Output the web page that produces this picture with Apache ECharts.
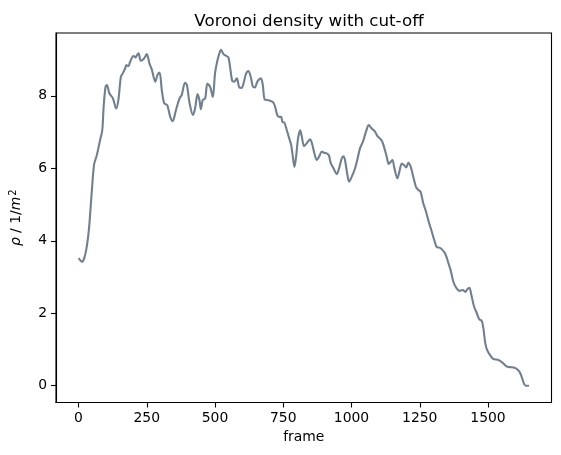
<!DOCTYPE html>
<html>
<head>
<meta charset="utf-8">
<script src="https://cdn.jsdelivr.net/npm/echarts@6/dist/echarts.min.js"></script>
<style>html,body{margin:0;padding:0;background:#fff}#c{width:561px;height:455px}</style>
</head>
<body>
<div id="c"></div>
<script>
const frames = [0,8,14,22,28,35,40,49,57,67,79,87,92,99,104,113,126,138,146,155,162,171,175,183,189,201,209,214,220,228,240,250,260,269,281,289,297,305,314,325,336,345,357,370,378,390,397,406,419,427,436,443,448,455,464,472,482,492,500,509,516,522,531,541,549,555,563,570,580,589,598,606,614,622,631,638,646,655,668,675,682,696,712,720,728,735,742,747,754,763,772,779,785,791,797,804,812,818,826,836,848,855,864,873,881,891,899,909,917,924,934,946,956,964,970,976,985,991,1001,1013,1021,1031,1043,1053,1063,1074,1086,1095,1111,1119,1129,1136,1144,1150,1157,1168,1175,1184,1192,1200,1208,1217,1226,1236,1245,1253,1263,1273,1283,1294,1303,1312,1322,1330,1343,1355,1363,1373,1383,1395,1407,1417,1424,1432,1439,1449,1459,1468,1477,1483,1490,1497,1507,1519,1538,1554,1571,1587,1602,1615,1623,1632,1639,1650];
const density = [3.52,3.45,3.42,3.55,3.74,4.1,4.48,5.40,6.10,6.36,6.78,7.05,7.70,8.25,8.30,8.07,7.93,7.65,7.88,8.52,8.62,8.76,8.85,8.82,8.94,9.10,9.06,9.12,9.17,8.97,9.03,9.15,8.89,8.71,8.39,8.57,8.64,8.16,7.79,7.74,7.42,7.30,7.61,7.93,8.02,8.36,8.30,7.83,7.47,7.65,8.05,7.88,7.63,7.88,7.93,8.34,8.25,7.97,8.62,8.98,9.17,9.27,9.15,9.10,9.06,8.80,8.41,8.39,8.48,8.23,8.22,8.39,8.62,8.68,8.52,8.27,8.23,8.39,8.48,8.30,7.90,7.88,7.83,7.70,7.47,7.42,7.42,7.28,7.26,7.05,6.82,6.64,6.32,6.04,6.32,6.82,7.05,6.87,6.61,6.69,6.80,6.69,6.41,6.23,6.32,6.46,6.43,6.41,6.36,6.14,6.00,5.84,6.04,6.27,6.33,6.23,5.81,5.63,5.77,6.00,6.23,6.55,6.76,7.01,7.19,7.10,7.01,6.89,6.76,6.59,6.32,6.12,6.18,6.23,6.00,5.72,5.90,6.13,6.09,6.02,6.15,6.04,5.77,5.49,5.40,5.35,5.03,4.80,4.52,4.25,4.02,3.83,3.81,3.77,3.65,3.38,3.19,2.87,2.71,2.62,2.64,2.59,2.66,2.70,2.50,2.18,2.00,1.83,1.79,1.58,1.17,0.98,0.85,0.74,0.71,0.63,0.52,0.51,0.48,0.39,0.25,0.05,0.0,0.0];
const xTicks = [0,250,500,750,1000,1250,1500];
const yTicks = [0,2,4,6,8];
const titleText = 'Voronoi density with cut-off';
const xName = 'frame';

const FONT = 'DejaVu Sans';
const chart = echarts.init(document.getElementById('c'), null, {renderer: 'canvas'});
const axisCommon = {
  axisLine: {show: true, onZero: false, lineStyle: {color: '#000', width: 1.1}},
  axisTick: {show: true, inside: false, length: 5, lineStyle: {color: '#000', width: 1.1}},
  splitLine: {show: false},
};
chart.setOption({
  animation: false,
  backgroundColor: '#fff',
  title: {
    text: titleText, left: 304, top: 8, textAlign: 'center',
    textStyle: {fontFamily: FONT, fontSize: 16.7, fontWeight: 'normal', color: '#000'}
  },
  grid: {left: 56, right: 9.5, top: 33, bottom: 52.5, show: true, borderColor: '#000', borderWidth: 1.1, backgroundColor: 'transparent'},
  xAxis: Object.assign({}, axisCommon, {
    type: 'value', min: -82.5, max: 1732.5,
    name: xName, nameLocation: 'middle', nameGap: 26,
    nameTextStyle: {fontFamily: FONT, fontSize: 13.9, color: '#000'},
    axisTick: Object.assign({}, axisCommon.axisTick, {customValues: xTicks}),
    axisLabel: {customValues: xTicks, formatter: v => String(v), fontFamily: FONT, fontSize: 13.9, color: '#000', margin: 9}
  }),
  yAxis: Object.assign({}, axisCommon, {
    type: 'value', min: -0.4635, max: 9.7335,
    name: '{i|ρ} / 1/{i|m}{s|2}', nameLocation: 'middle', nameGap: 32, nameRotate: 90,
    nameTextStyle: {fontFamily: FONT, fontSize: 13.9, color: '#000',
      rich: {
        i: {fontFamily: FONT, fontSize: 13.9, fontStyle: 'italic', color: '#000'},
        s: {fontFamily: FONT, fontSize: 10, color: '#000', verticalAlign: 'top', padding: [0,0,6,1]}
      }},
    axisTick: Object.assign({}, axisCommon.axisTick, {customValues: yTicks}),
    axisLabel: {customValues: yTicks, formatter: v => String(v), fontFamily: FONT, fontSize: 13.9, color: '#000', margin: 9}
  }),
  series: [{
    type: 'line',
    data: frames.map((f, i) => [f, density[i]]),
    showSymbol: false,
    smooth: 0.3,
    lineStyle: {color: '#708090', width: 2.1},
    clip: true
  }]
});
</script>
</body>
</html>
